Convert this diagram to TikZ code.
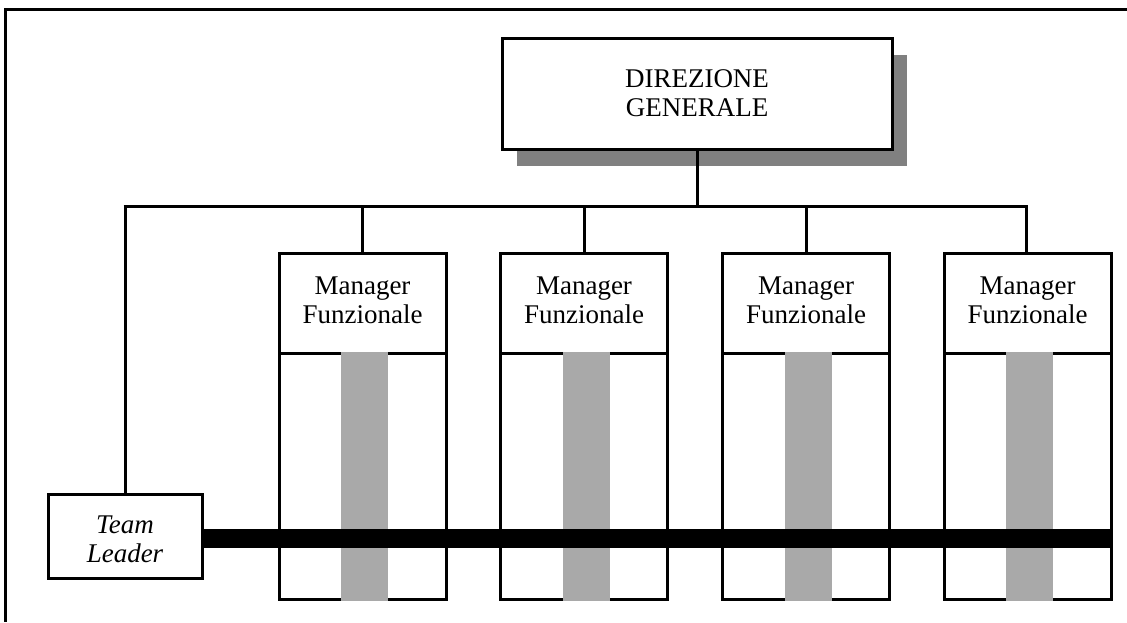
\documentclass[tikz,border=0pt]{standalone}
\usepackage{fontspec}
\setmainfont{Liberation Serif}
\usetikzlibrary{shadows}
\definecolor{shadowgray}{RGB}{128,128,128}
\definecolor{bargray}{RGB}{169,169,169}
\tikzset{
  txt/.style={font=\fontsize{27}{29}\selectfont, align=center},
  box/.style={draw, line width=3pt, fill=white, inner sep=0pt, outer sep=0pt, txt},
  mgr/.style={box, minimum width=167pt, minimum height=100pt, anchor=north},
  low/.style={draw, line width=3pt, inner sep=0pt, outer sep=0pt, minimum width=167pt, minimum height=246pt, anchor=north},
  conn/.style={line width=3pt},
  greybar/.style={fill=bargray},
}
\begin{document}
\begin{tikzpicture}[x=1pt,y=1pt]
\useasboundingbox (0,0) rectangle (1127,-622);
% outer frame (top and left sides visible)
\draw[line width=3pt] (1127,-9) -- (5,-9) -- (5,-622);
% direzione generale
\node[box, minimum width=390pt, minimum height=111pt,
  general shadow={fill=shadowgray, shadow xshift=15pt, shadow yshift=-17pt}]
  (dg) at (697,-93.5) {DIREZIONE\\GENERALE};
% manager boxes
\foreach \i/\x in {1/362.5,2/584,3/806,4/1027.5}{
  \node[mgr] (m\i) at (\x,-253) {};
  \node[txt] at ([yshift=3pt]m\i.center) {Manager\\Funzionale};
  \node[low] (l\i) at (m\i.south) {};
  \fill[greybar] ([xshift=-21.5pt,yshift=1.5pt]l\i.north) rectangle ([xshift=25.5pt,yshift=-1.5pt]l\i.south);
}
% team leader
\node[box, minimum width=154pt, minimum height=84pt] (tl) at (125,-536) {};
\node[txt, font=\fontsize{27}{29}\selectfont\itshape] at ([yshift=-3pt]tl.center) {Team\\Leader};
% connectors
\coordinate (busL) at (tl.north |- 0,-206);
\coordinate (busR) at (1026,-206);
\draw[conn] (dg.south) -- (dg.south |- busL);
\draw[conn] ([xshift=-1.5pt]busL) -- (busR) -- (busR |- m4.north);
\draw[conn] (busL) -- (tl.north);
\foreach \i in {1,2,3}{
  \draw[conn] (m\i.north |- busL) -- (m\i.north);
}
% black bar
\fill (tl.east |- 0,-529) rectangle ([xshift=1.5pt]l4.east |- 0,-548);
\end{tikzpicture}
\end{document}
